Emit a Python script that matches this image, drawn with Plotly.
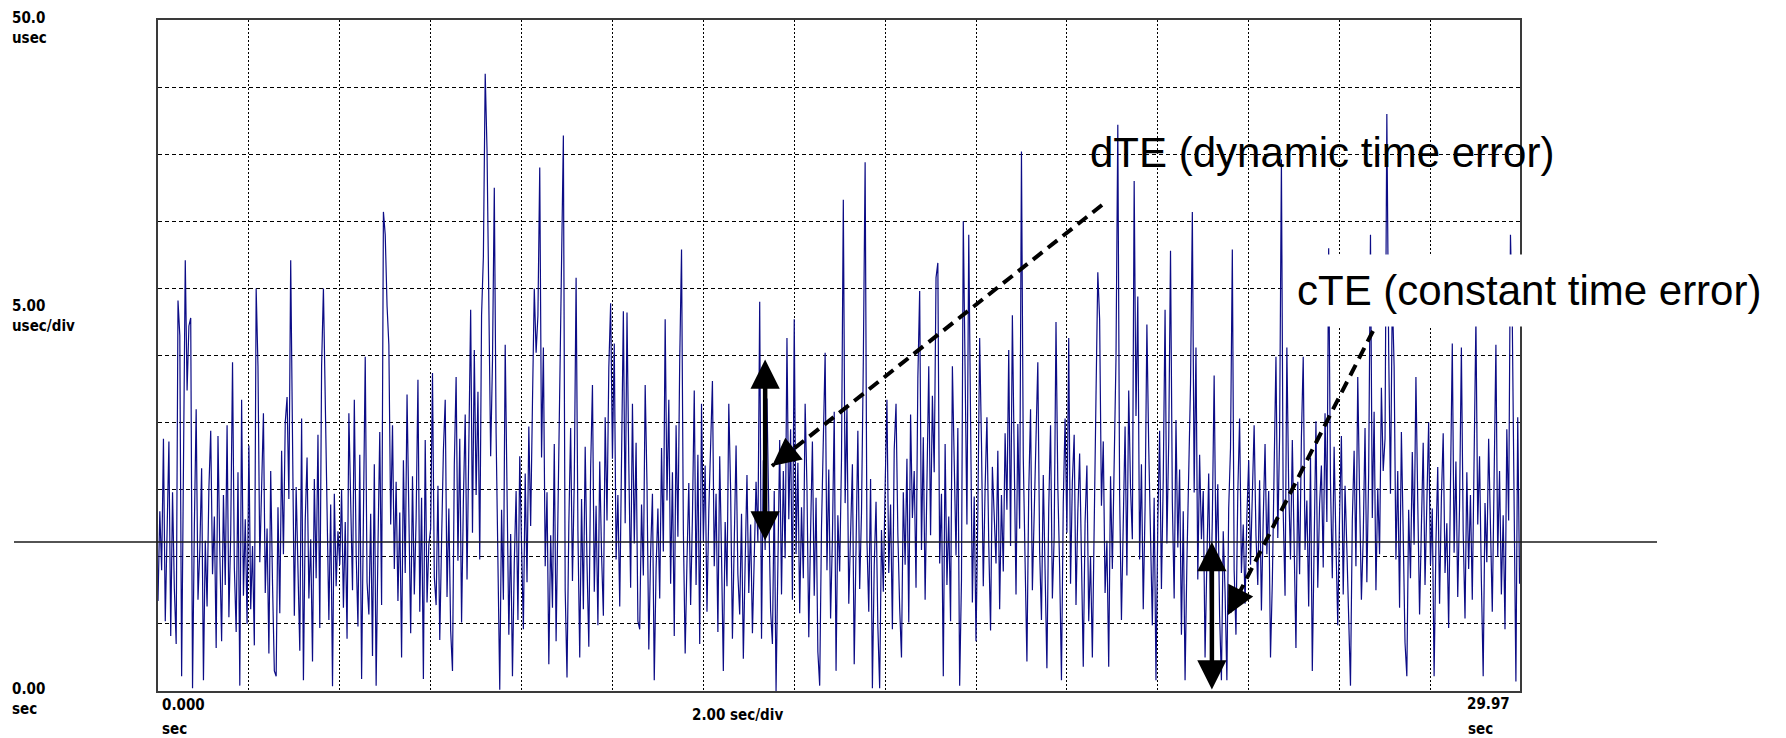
import math
import plotly.graph_objects as go

# ---------------- data ----------------
sample_interval_s = 0.04          # one sample every 40 ms
x_end_s = 29.97                   # right edge of the record
y_top_usec = 50.0
grid_x_step_s = 2.0               # 2.00 sec/div
grid_y_step_usec = 5.0            # 5.00 usec/div
cte_level_usec = 11.1             # constant time error (horizontal line)

te_usec = [
    6.7, 13.4, 9.0, 18.8, 5.2, 12.5, 18.6, 4.1, 14.8, 7.6, 3.5, 29.1, 26.5, 1.1, 17.2, 32.1, 22.4, 27.2, 27.8, 0.2, 12.3, 21.0, 6.8, 10.5, 16.6,
    0.8, 11.2, 6.3, 15.1, 19.4, 8.7, 13.0, 3.2, 19.0, 10.4, 3.7, 14.6, 7.9, 19.8, 5.5, 11.7, 24.5, 9.2, 4.4, 16.3, 0.4, 21.7, 7.1, 12.8, 5.0,
    18.3, 6.1, 10.8, 3.4, 30.0, 24.2, 9.6, 14.5, 20.7, 7.3, 12.1, 2.8, 16.4, 8.0, 1.5, 1.1, 13.7, 5.8, 17.9, 10.2, 20.0, 21.9, 14.3, 32.1, 20.7,
    5.6, 15.2, 9.8, 3.0, 20.3, 0.8, 12.7, 17.4, 6.9, 11.3, 2.2, 15.8, 8.4, 19.1, 4.7, 24.2, 30.0, 21.0, 10.6, 5.3, 13.9, 0.35, 14.7, 7.8, 11.9,
    9.4, 15.0, 6.2, 12.6, 3.9, 20.7, 14.1, 7.5, 21.7, 10.3, 4.8, 17.6, 0.9, 11.4, 24.9, 8.1, 5.7, 13.2, 2.6, 16.9, 0.4, 10.7, 19.3, 6.4, 35.7,
    34.0, 28.7, 25.8, 12.4, 19.8, 9.1, 15.6, 6.7, 13.3, 2.5, 17.2, 8.8, 22.1, 11.6, 4.3, 16.0, 7.2, 12.9, 23.2, 5.9, 14.4, 0.9, 18.7, 6.6, 10.9,
    12.1, 23.7, 8.5, 6.4, 15.3, 3.8, 11.2, 17.9, 21.7, 7.0, 13.6, 4.5, 1.5, 16.8, 23.4, 9.7, 18.8, 5.1, 14.2, 20.6, 8.3, 19.5, 28.4, 11.8, 25.4,
    14.6, 22.3, 9.8, 28.0, 32.4, 46.0, 40.3, 28.2, 17.5, 24.6, 37.5, 19.2, 8.4, 0.1, 13.5, 6.8, 25.8, 15.1, 4.2, 11.7, 1.1, 9.6, 14.9, 5.3, 17.5,
    10.8, 4.6, 16.2, 8.1, 19.7, 12.3, 21.5, 30.0, 25.2, 28.0, 39.0, 17.4, 25.6, 9.3, 14.8, 2.0, 11.6, 6.2, 18.4, 3.7, 13.1, 21.9, 30.8, 41.4, 7.5,
    1.0, 12.4, 19.6, 8.2, 15.7, 30.8, 11.9, 2.5, 14.3, 6.1, 18.2, 9.5, 3.3, 16.6, 22.8, 7.4, 13.8, 4.9, 17.1, 10.2, 5.6, 20.4, 12.7, 24.1, 28.9,
    17.3, 25.9, 9.8, 14.6, 6.3, 20.1, 28.3, 12.5, 28.2, 16.9, 7.7, 21.4, 11.0, 18.5, 5.2, 4.6, 13.9, 8.6, 22.8, 15.4, 3.1, 10.3, 14.7, 0.8, 9.1,
    13.6, 6.9, 18.1, 10.4, 27.7, 14.2, 21.7, 8.0, 16.3, 4.1, 19.8, 11.5, 24.6, 32.9, 12.0, 2.8, 9.7, 15.5, 6.4, 13.0, 22.4, 7.9, 17.6, 3.5, 21.4,
    11.2, 16.8, 5.9, 13.4, 19.0, 23.1, 9.3, 14.7, 4.4, 17.5, 10.1, 1.5, 12.6, 7.8, 21.4, 15.0, 3.9, 11.8, 18.3, 8.7, 5.7, 13.2, 2.4, 9.6, 16.1,
    7.3, 12.4, 4.3, 9.8, 15.6, 11.1, 29.0, 3.9, 17.2, 10.5, 21.8, 13.4, 6.0, 3.5, 14.9, 0.0, 10.6, 18.7, 7.2, 16.4, 9.9, 26.3, 12.8, 19.5, 6.8,
    27.7, 10.2, 17.0, 5.8, 13.7, 8.4, 21.4, 15.2, 4.0, 11.9, 18.6, 7.1, 14.4, 2.9, 0.4, 12.2, 19.3, 25.2, 9.0, 16.5, 5.4, 11.4, 20.8, 1.5, 13.1,
    8.9, 17.3, 36.6, 14.0, 21.2, 6.5, 12.8, 16.9, 2.0, 10.7, 19.4, 7.6, 13.3, 24.5, 39.4, 11.2, 5.9, 15.8, 0.2, 9.3, 14.1, 4.8, 0.2, 12.0, 7.4,
    15.2, 21.7, 8.8, 13.9, 4.6, 18.0, 21.4, 11.7, 6.2, 2.5, 14.8, 9.4, 17.3, 5.1, 20.6, 12.9, 16.4, 7.7, 23.3, 29.8, 10.5, 18.9, 6.8, 14.2, 24.2,
    11.6, 22.0, 16.3, 30.8, 31.9, 9.5, 14.7, 1.1, 18.4, 7.9, 13.0, 5.2, 24.2, 15.9, 10.1, 19.6, 0.4, 8.3, 35.0, 23.8, 12.4, 34.0, 17.8, 6.6, 14.5,
    3.7, 13.2, 26.3, 18.5, 7.8, 15.1, 20.4, 11.0, 4.5, 16.7, 12.3, 9.5, 17.9, 6.1, 14.6, 8.9, 19.2, 13.5, 25.4, 10.8, 28.0, 15.7, 7.2, 19.9, 12.1,
    40.2, 17.4, 9.6, 2.2, 14.8, 21.0, 7.5, 12.9, 18.3, 24.5, 10.4, 5.3, 16.1, 8.7, 1.7, 13.6, 19.8, 6.9, 11.5, 27.5, 15.3, 9.2, 0.8, 14.0, 20.3,
    11.8, 26.3, 8.0, 15.6, 19.1, 6.4, 13.3, 17.7, 9.9, 1.8, 12.6, 16.8, 5.2, 10.0, 2.5, 14.3, 21.9, 31.2, 27.7, 13.8, 18.6, 7.3, 11.2, 1.8, 16.0,
    9.1, 17.5, 24.8, 42.2, 14.6, 5.3, 12.2, 19.7, 8.6, 22.4, 15.1, 11.3, 38.0, 20.5, 29.4, 9.8, 16.9, 6.1, 13.7, 27.3, 18.2, 10.6, 4.9, 14.4, 0.8,
    12.5, 19.4, 7.6, 15.8, 28.4, 11.0, 18.6, 32.8, 14.1, 6.9, 20.2, 10.7, 16.5, 4.2, 13.4, 0.8, 9.5, 17.0, 22.9, 35.7, 14.8, 25.6, 8.3, 17.6, 11.3,
    14.9, 2.5, 9.7, 16.2, 6.0, 12.8, 23.5, 10.1, 15.4, 5.6, 0.8, 11.9, 7.4, 0.8, 13.6, 18.1, 32.9, 9.0, 4.2, 14.7, 20.3, 8.8, 12.4, 6.5, 13.0,
    17.2, 9.4, 14.3, 19.8, 11.6, 7.9, 15.7, 6.0, 12.8, 18.4, 10.2, 14.9, 2.5, 8.1, 16.6, 24.9, 11.4, 19.0, 39.6, 13.3, 7.1, 25.6, 15.2, 9.8, 18.7,
    12.0, 3.2, 15.6, 8.7, 18.9, 24.9, 10.5, 14.2, 6.3, 17.4, 1.5, 11.8, 20.1, 7.7, 13.9, 16.8, 9.2, 20.7, 12.6, 33.0, 15.5, 8.4, 18.2, 11.0, 4.9,
    13.1, 19.0, 7.2, 15.3, 10.6, 5.8, 0.4, 12.7, 17.9, 9.3, 23.4, 14.6, 6.8, 11.4, 19.6, 8.1, 16.2, 34.0, 12.9, 20.8, 7.5, 15.1, 10.2, 22.6, 16.4,
    18.8, 43.0, 25.5, 14.7, 29.6, 24.2, 9.8, 16.4, 6.2, 19.3, 11.7, 3.6, 1.1, 13.5, 8.4, 17.8, 10.9, 23.4, 14.1, 5.7, 12.2, 18.5, 7.9, 15.0, 20.0,
    9.4, 13.6, 1.1, 11.0, 16.7, 6.5, 14.3, 19.2, 8.8, 12.5, 4.7, 15.9, 25.9, 10.3, 17.1, 7.0, 13.8, 25.6, 11.9, 5.4, 16.3, 9.1, 14.6, 6.8, 18.0,
    27.7, 12.4, 17.5, 8.2, 1.1, 14.0, 9.6, 18.8, 11.3, 5.9, 15.7, 25.8, 10.0, 16.4, 7.2, 13.1, 4.6, 19.5, 12.7, 34.0, 27.7, 14.9, 0.7, 20.4, 8.0,
]

# double-headed arrows: (time s, low usec, high usec)
dte_arrow = (13.36, 11.1, 24.7)
cte_arrow = (23.19, 0.0, 11.1)

left_labels = ["50.0<br>usec", "5.00<br>usec/div", "0.00<br>sec"]
bottom_labels = ["0.000", "2.00 sec/div", "29.97"]
bottom_unit = "sec"
dte_text = "dTE (dynamic time error)"
cte_text = "cTE (constant time error)"

# ---------------- layout geometry ----------------
W, H = 1786, 738
L, R, T, B = 158, 1520, 20, 691


def pxp(x):
    return (x - L) / (R - L)


def pyp(y):
    return (B - y) / (B - T)


def dx(x):
    return (x - L) / (R - L) * x_end_s


def dy(y):
    return (B - y) / (B - T) * y_top_usec


fig = go.Figure()
fig.add_trace(go.Scatter(
    y=te_usec, x0=0, dx=sample_interval_s, mode="lines",
    line=dict(color="#0c0c86", width=1.2), hoverinfo="skip", showlegend=False,
))

axis_common = dict(
    showgrid=True, gridcolor="#000000", gridwidth=1,
    showticklabels=False, ticks="", zeroline=False,
    showline=True, linecolor="#3a3a3a", linewidth=2, mirror=True,
)
fig.update_xaxes(range=[0, x_end_s], tick0=0, dtick=grid_x_step_s,
                 griddash="2px,2px", **axis_common)
fig.update_yaxes(range=[0, y_top_usec], tick0=0, dtick=grid_y_step_usec,
                 griddash="4px,3px", **axis_common)

shapes = []
# constant time error reference line extending beyond the plot
shapes.append(dict(type="line", xref="paper", yref="paper",
                   x0=pxp(14), x1=pxp(1657),
                   y0=cte_level_usec / y_top_usec, y1=cte_level_usec / y_top_usec,
                   line=dict(color="#1a1a1a", width=1.5), layer="above"))
# dashed pointer lines (pixel positions of the reference)
ptr_dte = ((1102, 205), (772, 466))
ptr_cte = ((1373, 331), (1228, 615))
for (p0, p1) in (ptr_dte, ptr_cte):
    shapes.append(dict(type="line", xref="x", yref="y",
                       x0=dx(p0[0]), y0=dy(p0[1]), x1=dx(p1[0]), y1=dy(p1[1]),
                       line=dict(color="#000000", width=4, dash="12px,7px"),
                       layer="above"))

annotations = []
# double-headed arrows
for (t, lo, hi) in (dte_arrow, cte_arrow):
    annotations.append(dict(
        x=t, y=hi, ax=t, ay=lo, xref="x", yref="y", axref="x", ayref="y",
        text="", showarrow=True, arrowhead=2, arrowside="end+start",
        arrowsize=1.3, arrowwidth=4.5, arrowcolor="#000000", standoff=0, startstandoff=0,
    ))
# heads of dashed pointers
for (p0, p1) in (ptr_dte, ptr_cte):
    vx, vy = p0[0] - p1[0], p0[1] - p1[1]
    n = math.hypot(vx, vy)
    annotations.append(dict(
        x=dx(p1[0]), y=dy(p1[1]), xref="x", yref="y",
        ax=vx / n * 20, ay=vy / n * 20, text="", showarrow=True,
        arrowhead=2, arrowsize=1.4, arrowwidth=4, arrowcolor="#000000", standoff=0,
    ))

big_font = dict(family="Liberation Sans, Arial, sans-serif", size=42, color="#000000")
annotations.append(dict(text=dte_text, xref="paper", yref="paper",
                        x=pxp(1088), y=pyp(153), xanchor="left", yanchor="middle",
                        showarrow=False, font=big_font))
annotations.append(dict(text=cte_text, xref="paper", yref="paper",
                        x=pxp(1284), y=pyp(290), xanchor="left", yanchor="middle",
                        showarrow=False, font=big_font, bgcolor="#ffffff", borderpad=12))

small_font = dict(family="Liberation Sans Narrow, Arial Narrow, DejaVu Sans Condensed, sans-serif",
                  size=15, color="#000000", weight="bold")
for txt, top in zip(left_labels, (7, 295, 678)):
    annotations.append(dict(text=txt, xref="paper", yref="paper", x=pxp(10), y=pyp(top),
                            xanchor="left", yanchor="top", align="left",
                            showarrow=False, font=small_font))
annotations.append(dict(text=bottom_labels[0], xref="paper", yref="paper", x=pxp(160), y=pyp(694),
                        xanchor="left", yanchor="top", showarrow=False, font=small_font))
annotations.append(dict(text=bottom_unit, xref="paper", yref="paper", x=pxp(160), y=pyp(718),
                        xanchor="left", yanchor="top", showarrow=False, font=small_font))
annotations.append(dict(text=bottom_labels[1], xref="paper", yref="paper", x=pxp(737), y=pyp(704),
                        xanchor="center", yanchor="top", showarrow=False, font=small_font))
annotations.append(dict(text=bottom_labels[2], xref="paper", yref="paper", x=pxp(1465), y=pyp(693),
                        xanchor="left", yanchor="top", showarrow=False, font=small_font))
annotations.append(dict(text=bottom_unit, xref="paper", yref="paper", x=pxp(1466), y=pyp(718),
                        xanchor="left", yanchor="top", showarrow=False, font=small_font))

fig.update_layout(
    width=W, height=H, autosize=False,
    margin=dict(l=L, r=W - R, t=T, b=H - B, pad=0),
    paper_bgcolor="#ffffff", plot_bgcolor="#ffffff",
    shapes=shapes, annotations=annotations, showlegend=False,
)

fig.write_html("out.html", config={"displayModeBar": False})
